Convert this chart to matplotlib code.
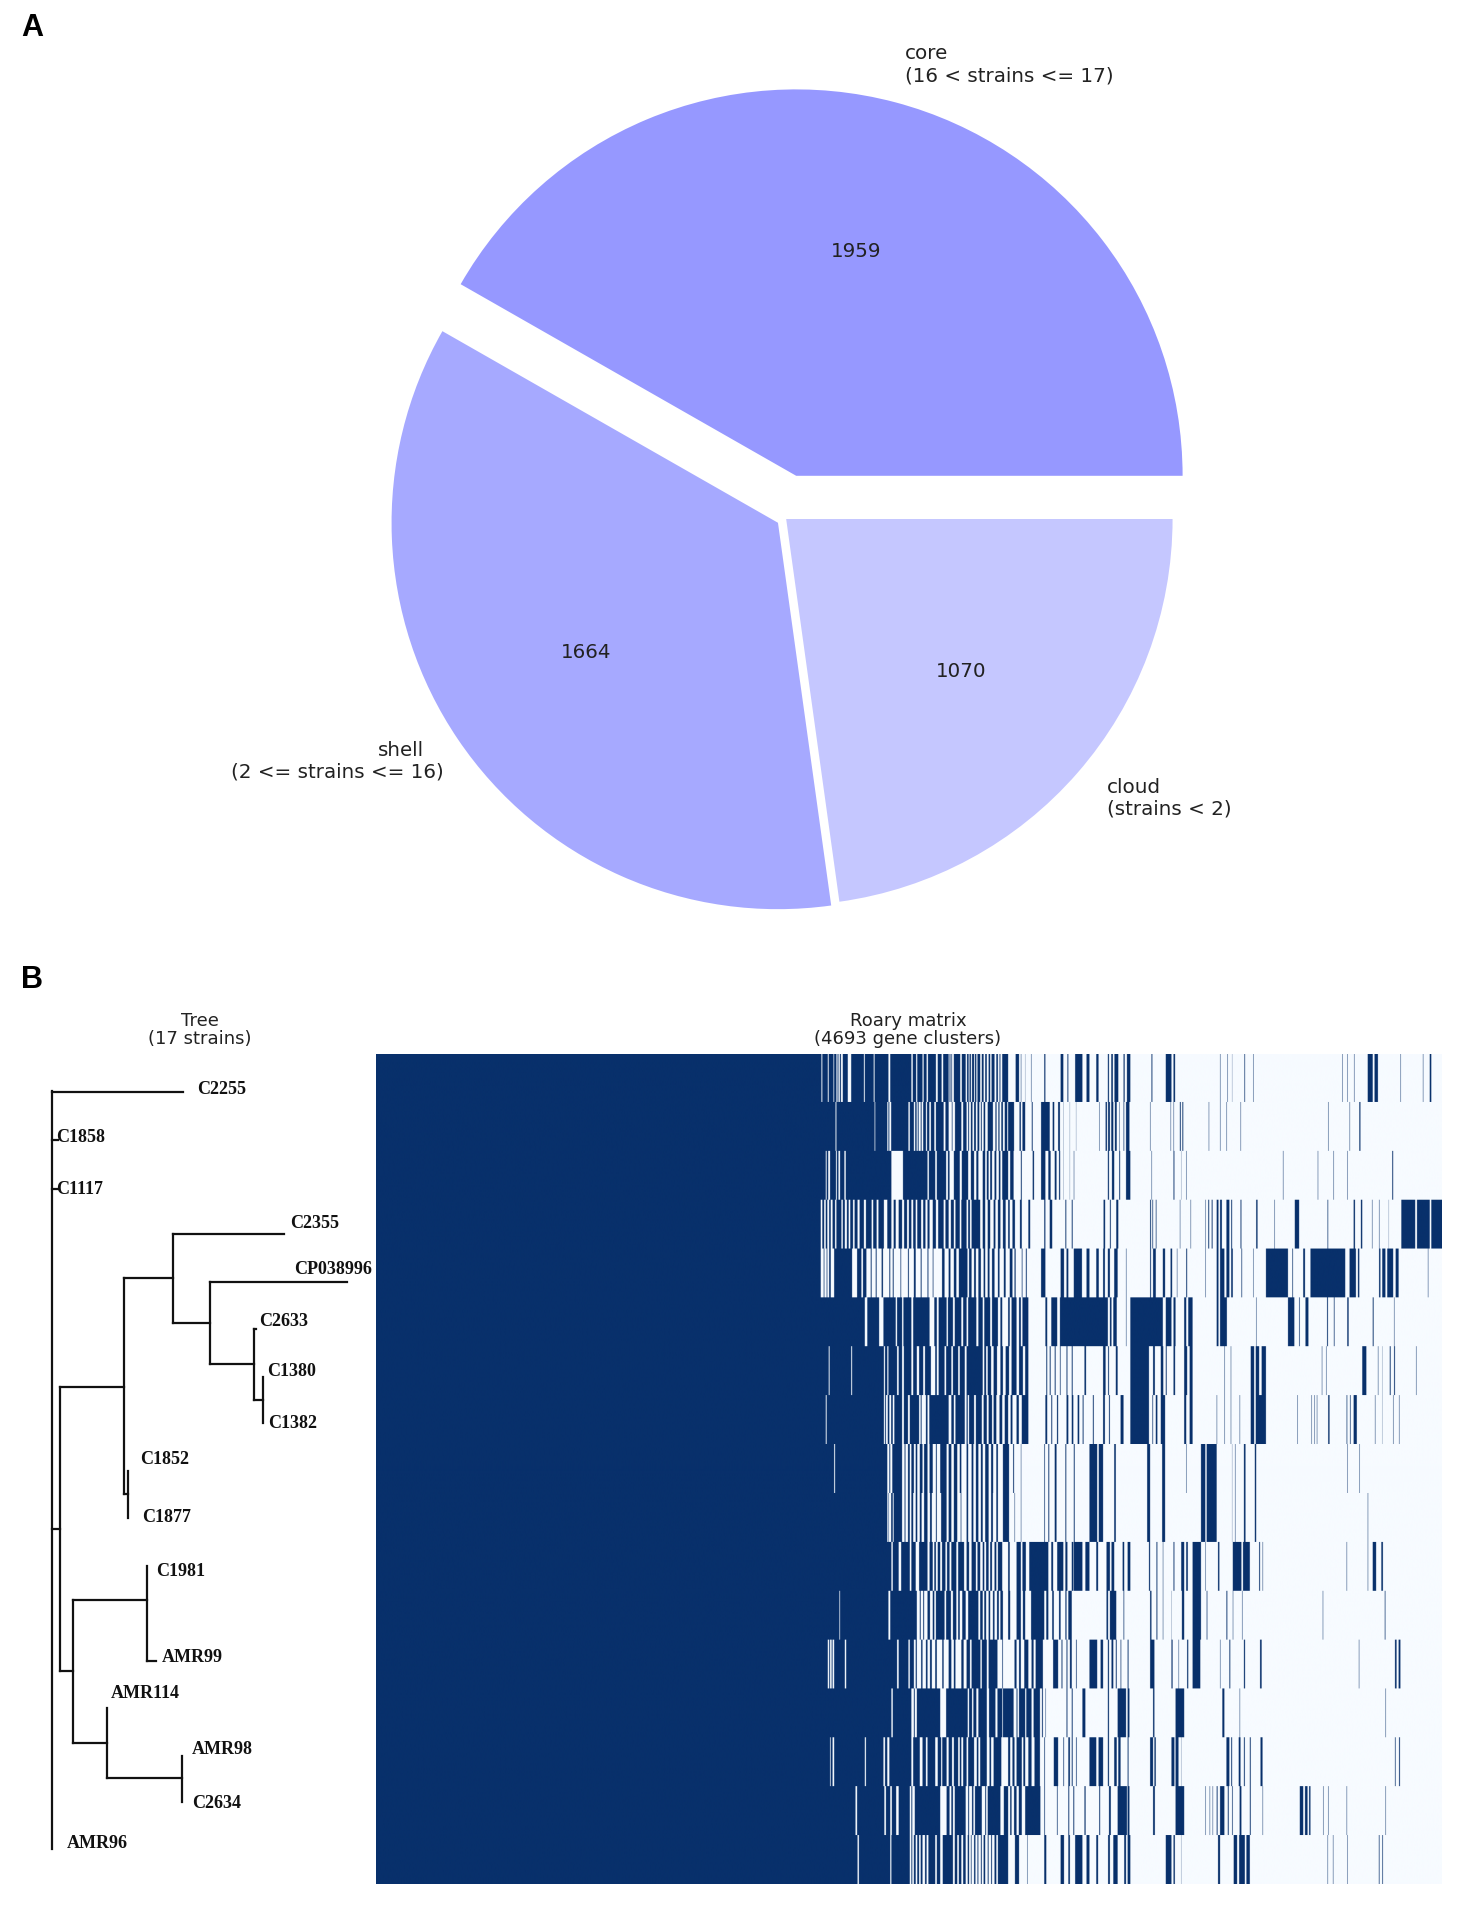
import numpy as np
import matplotlib
matplotlib.use("Agg")
import matplotlib.pyplot as plt

W, H = 1461, 1907

# ---------- Panel A data ----------
pie_labels = ["core\n(16 < strains <= 17)", "", "cloud\n(strains < 2)"]
pie_values = [1959, 1664, 1070]
pie_colors = ["#9698ff", "#a6a9ff", "#c5c7ff"]
pie_explode = [0.113, 0.022, 0.004]

# ---------- Panel B data: tree ----------
strain_names = ["C2255", "C1858", "C1117", "C2355", "CP038996", "C2633", "C1380", "C1382",
                "C1852", "C1877", "C1981", "AMR99", "AMR114", "AMR98", "C2634", "AMR96"]
strain_label_x = [197, 56, 56, 290, 294, 259, 267, 268, 140, 142, 156, 162, 111, 192, 192, 67]
strain_label_y = [1090, 1138, 1189, 1224, 1269, 1321, 1371, 1424, 1459, 1518, 1572, 1657, 1693, 1749, 1803, 1844]
# branches: (y, x start, x end)
tree_horizontal = [(1092, 52, 183), (1140, 52, 58), (1189, 52, 58), (1529, 52, 60),
                   (1387, 60, 124), (1278, 124, 173), (1234, 173, 284), (1323, 173, 210),
                   (1282, 210, 347), (1364, 210, 254), (1329, 254, 256), (1400, 254, 263),
                   (1494, 124, 128), (1671, 60, 73), (1600, 73, 147), (1661, 147, 156),
                   (1743, 73, 107), (1778, 107, 182)]
# branches: (x, y start, y end)
tree_vertical = [(52, 1091, 1849), (60, 1387, 1671), (124, 1278, 1494), (173, 1234, 1323),
                 (210, 1282, 1364), (254, 1329, 1400), (263, 1377, 1423), (128, 1471, 1518),
                 (73, 1600, 1743), (147, 1566, 1661), (107, 1708, 1778), (182, 1756, 1802)]

# ---------- Panel B data: presence matrix ----------
n_clusters = 4693
n_strains = 17
accessory_origin = 1868   # clusters before the first listed column
accessory_step = 1.867    # clusters per listed column
# each row: start, end, start, end ... of present runs
row_01 = [0,50, 52,65, 67,78, 80,85, 88,90, 93,96, 100,112, 120,150, 152,173, 175,208, 212,262, 265,273, 276,288, 291,298, 301,320, 324,333, 337,350, 352,354, 356,358, 362,377, 381,390, 393,397, 399,402, 405,410, 412,415, 418,424, 428,432, 436,440, 444,448, 451,458, 462,466, 470,472, 476,490, 508,516, 520,521, 530,531, 544,545, 575,578, 614,620, 630,632, 648,665, 675,682, 698,703, 725,728, 733,737, 741,750, 762,765, 770,778, 828,830, 862,875, 880,884, 990,991, 1007,1008, 1018,1019, 1047,1049, 1068,1069, 1278,1279, 1290,1291, 1306,1307, 1338,1350, 1354,1362, 1415,1416, 1468,1469, 1484,1488]
row_02 = [0,83, 85,175, 177,205, 208,210, 214,255, 258,268, 271,274, 277,279, 284,286, 290,296, 299,304, 308,316, 320,338, 342,350, 357,359, 365,380, 384,392, 396,398, 402,406, 410,414, 418,422, 426,428, 432,436, 442,454, 460,463, 467,470, 474,478, 482,488, 490,504, 517,520, 524,530, 546,548, 568,588, 595,599, 608,612, 620,621, 635,636, 650,651, 705,706, 720,723, 726,730, 733,738, 742,746, 752,753, 762,764, 768,776, 825,826, 873,874, 880,881, 895,897, 901,903, 963,964, 990,991, 1005,1006, 1038,1039, 1245,1246, 1295,1296, 1318,1321]
row_03 = [0,60, 62,66, 70,84, 86,90, 94,104, 107,215, 242,300, 303,318, 322,344, 348,352, 362,376, 381,396, 402,410, 415,420, 430,436, 440,444, 448,452, 458,462, 468,472, 476,490, 495,503, 520,522, 548,551, 568,578, 585,590, 600,604, 610,613, 620,621, 635,636, 645,646, 725,728, 735,740, 752,754, 768,778, 828,829, 880,882, 898,899, 910,911, 1138,1139, 1220,1221, 1257,1258, 1290,1291, 1396,1398]
row_04 = [0,48, 52,56, 60,64, 68,72, 76,82, 85,97, 100,105, 110,114, 118,124, 128,135, 140,150, 155,168, 172,180, 184,197, 205,215, 220,225, 232,240, 245,252, 256,262, 266,272, 276,285, 290,295, 300,305, 312,320, 325,338, 342,350, 355,362, 366,376, 380,392, 396,400, 404,424, 430,436, 442,448, 456,460, 466,472, 478,484, 490,494, 500,506, 518,522, 538,542, 575,578, 588,594, 625,627, 640,642, 715,719, 730,732, 745,750, 825,827, 830,832, 838,840, 895,896, 920,921, 955,956, 962,964, 970,972, 982,986, 990,994, 1005,1012, 1016,1018, 1038,1040, 1075,1078, 1118,1119, 1166,1176, 1243,1245, 1305,1308, 1322,1325, 1348,1349, 1365,1366, 1387,1388, 1417,1450, 1454,1484, 1488,1518]
row_05 = [0,48, 55,57, 62,64, 68,72, 80,122, 134,144, 148,156, 166,168, 178,180, 192,195, 210,212, 218,220, 236,238, 254,256, 268,272, 284,286, 300,302, 312,314, 334,340, 350,354, 362,368, 374,394, 398,404, 410,414, 420,426, 432,436, 442,446, 452,458, 466,470, 480,484, 494,500, 505,508, 522,524, 532,534, 568,578, 614,622, 628,632, 645,664, 675,682, 698,704, 714,718, 725,730, 740,748, 768,769, 825,827, 832,838, 855,860, 873,877, 888,889, 910,912, 955,956, 982,986, 990,1000, 1005,1012, 1016,1020, 1040,1042, 1068,1069, 1098,1150, 1160,1162, 1186,1190, 1203,1285, 1295,1310, 1315,1318, 1365,1368, 1372,1380, 1384,1398, 1404,1411, 1480,1481]
row_06 = [0,152, 158,186, 196,225, 228,240, 243,262, 266,305, 316,322, 326,345, 348,360, 364,380, 384,392, 396,415, 420,430, 434,448, 452,466, 472,476, 490,494, 498,510, 516,520, 524,538, 578,582, 592,606, 612,725, 730,734, 738,746, 768,769, 778,855, 862,875, 880,885, 905,910, 915,925, 982,986, 990,1006, 1075,1076, 1150,1165, 1176,1178, 1191,1198, 1242,1244, 1258,1260, 1290,1293, 1350,1352, 1400,1401]
row_07 = [0,67, 69,120, 122,197, 200,205, 208,228, 232,240, 244,262, 266,275, 280,290, 294,308, 318,322, 326,340, 344,356, 360,372, 376,388, 392,430, 434,438, 442,450, 456,464, 472,478, 484,492, 498,510, 516,525, 530,538, 580,582, 588,590, 600,602, 612,614, 628,630, 640,642, 670,674, 714,720, 726,728, 744,748, 778,822, 832,836, 850,856, 862,864, 880,884, 905,912, 918,925, 1000,1001, 1015,1016, 1062,1070, 1074,1082, 1088,1098, 1230,1231, 1240,1241, 1325,1335, 1362,1363, 1372,1373, 1390,1392, 1400,1402, 1452,1453]
row_08 = [0,60, 62,197, 200,202, 206,210, 214,218, 222,240, 244,254, 258,280, 284,286, 296,300, 304,350, 356,362, 366,388, 392,395, 398,410, 414,428, 432,440, 444,452, 456,462, 470,476, 482,490, 496,500, 510,515, 522,538, 578,582, 592,594, 605,608, 628,632, 640,644, 654,658, 666,668, 690,692, 714,718, 728,730, 755,762, 778,822, 830,832, 838,842, 850,860, 905,910, 918,925, 982,983, 1000,1001, 1015,1016, 1036,1037, 1062,1070, 1074,1098, 1172,1173, 1205,1206, 1212,1213, 1218,1219, 1245,1248, 1288,1290, 1296,1298, 1305,1312, 1355,1356, 1372,1373, 1398,1399, 1412,1413]
row_09 = [0,80, 82,205, 210,212, 217,240, 246,248, 254,258, 262,268, 272,276, 282,288, 292,300, 305,312, 320,322, 330,345, 350,356, 362,370, 376,380, 392,396, 404,408, 414,420, 426,430, 436,444, 450,455, 462,466, 478,492, 502,504, 520,521, 575,577, 585,587, 600,604, 625,627, 645,647, 682,700, 704,714, 740,744, 818,825, 853,860, 910,911, 945,955, 958,982, 1018,1019, 1025,1026, 1046,1050, 1072,1075, 1290,1291, 1318,1319]
row_10 = [0,205, 208,209, 214,218, 220,240, 246,248, 254,258, 262,266, 272,276, 282,286, 292,300, 306,310, 320,322, 332,345, 350,356, 362,370, 378,380, 392,396, 404,408, 414,420, 426,430, 436,444, 450,454, 462,466, 478,492, 505,506, 520,521, 575,577, 585,587, 600,604, 625,627, 645,647, 682,700, 704,714, 740,744, 818,825, 853,860, 945,955, 958,982, 1018,1019, 1025,1026, 1046,1050, 1072,1075, 1338,1339]
row_11 = [0,215, 218,232, 238,258, 262,272, 280,300, 305,312, 316,320, 324,330, 334,342, 346,352, 356,368, 372,386, 392,398, 404,414, 418,424, 430,434, 438,444, 448,452, 458,462, 466,476, 490,494, 510,520, 524,532, 540,585, 592,596, 606,620, 625,630, 640,644, 645,665, 672,682, 698,702, 722,730, 734,740, 760,764, 772,778, 822,825, 840,842, 855,856, 880,882, 898,905, 910,914, 925,945, 955,956, 985,988, 1020,1040, 1044,1060, 1082,1084, 1090,1091, 1288,1289, 1338,1339, 1350,1358, 1370,1374]
row_12 = [0,92, 94,208, 212,275, 282,284, 290,292, 300,306, 312,316, 320,340, 344,355, 360,368, 372,376, 382,390, 396,420, 424,430, 434,438, 444,448, 454,458, 464,468, 472,478, 490,495, 510,520, 525,530, 544,575, 580,585, 594,598, 610,614, 625,628, 632,640, 722,726, 730,745, 762,764, 825,828, 840,842, 855,856, 875,876, 900,905, 925,945, 958,960, 1005,1007, 1020,1021, 1042,1043, 1232,1233, 1378,1380]
row_13 = [0,65, 68,70, 74,76, 80,105, 108,228, 232,255, 258,268, 272,275, 285,288, 296,300, 306,310, 318,322, 335,338, 350,356, 362,366, 380,385, 392,400, 404,425, 428,440, 444,465, 476,478, 505,510, 516,520, 528,538, 545,550, 555,572, 596,608, 616,618, 628,630, 636,640, 650,652, 682,700, 708,714, 725,728, 734,738, 744,746, 755,757, 772,774, 825,835, 875,878, 892,893, 912,915, 925,943, 990,991, 1012,1014, 1046,1049, 1084,1088, 1317,1318, 1402,1406, 1411,1415]
row_14 = [0,215, 218,262, 268,270, 275,330, 344,395, 398,405, 408,415, 420,440, 445,460, 465,476, 478,503, 510,512, 516,530, 533,545, 550,565, 570,572, 578,579, 628,630, 640,642, 665,672, 725,728, 748,768, 772,776, 832,835, 885,905, 995,1000, 1036,1037, 1380,1381]
row_15 = [0,70, 72,76, 80,152, 155,196, 200,205, 210,262, 266,282, 288,296, 300,318, 324,332, 335,345, 350,358, 362,372, 376,380, 384,392, 396,410, 416,420, 424,440, 446,450, 456,474, 490,495, 500,505, 510,522, 526,530, 538,545, 552,565, 575,577, 598,608, 620,622, 632,636, 640,642, 650,652, 682,698, 703,714, 725,728, 740,746, 750,755, 772,774, 825,832, 835,838, 875,882, 885,892, 898,899, 1005,1012, 1016,1018, 1034,1038, 1046,1048, 1060,1062, 1085,1090, 1402,1404, 1412,1414]
row_16 = [0,130, 134,198, 202,212, 216,226, 232,258, 262,264, 270,330, 345,352, 356,360, 364,390, 396,398, 405,408, 412,428, 436,438, 442,472, 480,490, 495,498, 504,510, 515,522, 530,566, 575,577, 605,607, 632,634, 644,646, 670,673, 705,707, 728,732, 748,770, 772,776, 832,836, 885,905, 955,956, 965,966, 972,973, 982,984, 990,1000, 1008,1010, 1018,1020, 1036,1040, 1060,1062, 1090,1091, 1178,1186, 1190,1196, 1200,1203, 1233,1234, 1245,1246, 1288,1289, 1380,1381]
row_17 = [0,135, 138,212, 215,258, 262,264, 268,272, 276,280, 284,288, 294,298, 302,318, 322,330, 336,360, 364,370, 374,380, 384,390, 395,398, 402,404, 410,413, 418,420, 426,428, 432,436, 442,444, 450,452, 458,462, 466,490, 506,516, 535,536, 575,580, 614,622, 632,636, 648,665, 675,682, 698,702, 726,730, 738,748, 764,768, 772,778, 862,875, 880,883, 898,899, 985,990, 1022,1030, 1035,1048, 1052,1060, 1243,1244, 1256,1257, 1290,1291, 1364,1366, 1372,1374]
presence_rows = [row_01, row_02, row_03, row_04, row_05, row_06, row_07, row_08, row_09,
                 row_10, row_11, row_12, row_13, row_14, row_15, row_16, row_17]


def box(left, top, right, bottom):
    return [left / W, 1 - bottom / H, (right - left) / W, (bottom - top) / H]


plt.rcParams["font.family"] = "DejaVu Sans"
fig = plt.figure(figsize=(W / 100, H / 100), dpi=100, facecolor="white")

# ---------- Panel A ----------
cx, cy, half = 785, 518.0, 483
ax_pie = fig.add_axes(box(cx - half, cy - half, cx + half, cy + half))
total = sum(pie_values)
ax_pie.pie(pie_values, labels=pie_labels, colors=pie_colors, explode=pie_explode,
           startangle=0, counterclock=True, radius=1,
           autopct=lambda p: f"{round(p * total / 100)}",
           textprops={"fontsize": 14.3, "color": "#222222"})
ax_pie.set_xlim(-1.25, 1.25)
ax_pie.set_ylim(-1.25, 1.25)

# ---------- Overlay: tree, titles, panel letters (pixel scale) ----------
ax_over = fig.add_axes([0, 0, 1, 1], facecolor="none")
ax_over.set_xlim(0, W)
ax_over.set_ylim(H, 0)
ax_over.axis("off")

ax_over.text(424, 750, "shell", ha="right", va="center", fontsize=14.3, color="#222222")
ax_over.text(444, 772, "(2 <= strains <= 16)", ha="right", va="center", fontsize=14.3, color="#222222")

for letter, lx, ly in [("A", 21, 28), ("B", 21, 980)]:
    ax_over.text(lx, ly, letter, fontsize=22, fontweight="bold", family="Liberation Sans",
                 ha="left", va="center", color="black")

ax_over.text(200, 1030, "Tree\n(17 strains)", ha="center", va="center", fontsize=13,
             color="#222222", linespacing=1.03)
ax_over.text(908, 1030, "Roary matrix\n(4693 gene clusters)", ha="center", va="center",
             fontsize=13, color="#222222", linespacing=1.03)

for y, x0, x1 in tree_horizontal:
    ax_over.plot([x0, x1], [y, y], color="#111111", lw=1.6, solid_capstyle="projecting")
for x, y0, y1 in tree_vertical:
    ax_over.plot([x, x], [y0, y1], color="#111111", lw=1.6, solid_capstyle="projecting")
for name, lx, ly in zip(strain_names, strain_label_x, strain_label_y):
    ax_over.text(lx, ly, name, family="Liberation Serif", fontweight="bold", fontsize=13,
                 ha="left", va="center", color="#111111")

# ---------- Panel B matrix ----------
matrix = np.zeros((n_strains, n_clusters))
matrix[:, :accessory_origin] = 1
for i, runs in enumerate(presence_rows):
    for a, b in zip(runs[0::2], runs[1::2]):
        g0 = int(round(accessory_origin + accessory_step * a))
        g1 = int(round(accessory_origin + accessory_step * b))
        matrix[i, g0:min(g1, n_clusters)] = 1

ax_m = fig.add_axes(box(376, 1053.5, 1442, 1884))
# each strain keeps a crisp band: rows are repeated so only the columns get smoothed
ax_m.imshow(np.repeat(matrix, 49, axis=0), aspect="auto", cmap="Blues", vmin=0, vmax=1,
            interpolation="antialiased")
ax_m.axis("off")

fig.savefig("out.png", dpi=100)
